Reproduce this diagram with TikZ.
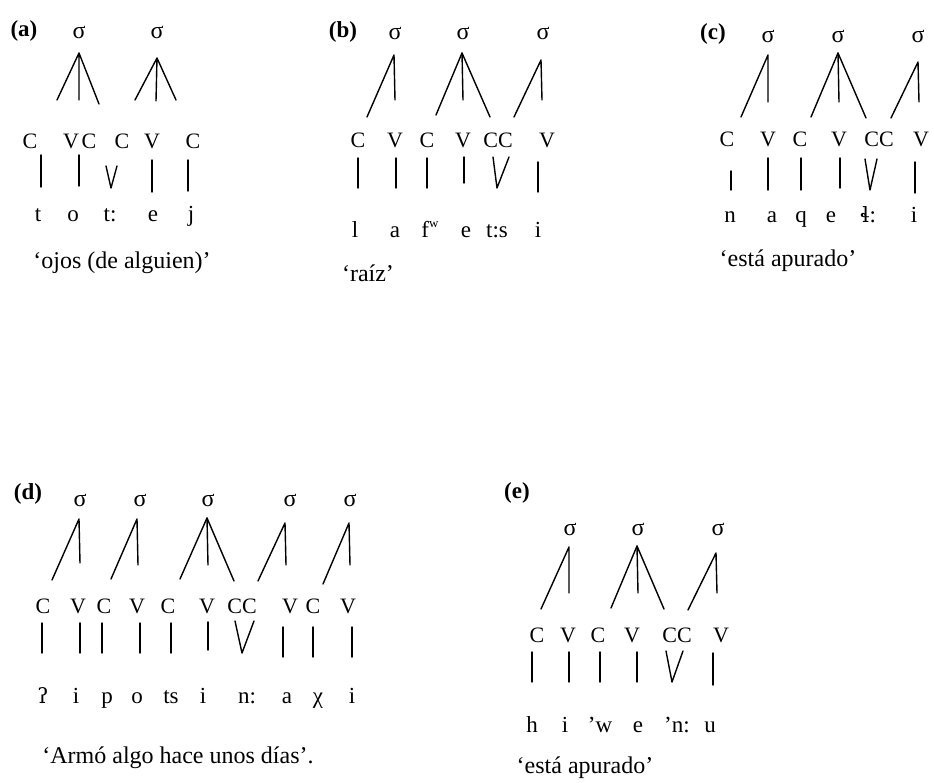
\documentclass[tikz,border=0pt]{standalone}
\usepackage{fontspec}
\setmainfont{Liberation Serif}
\newfontfamily\ipafont{DejaVu Serif}
\begin{document}
\begin{tikzpicture}[x=1pt,y=-1pt,
  lab/.style={anchor=base, inner sep=0pt, font=\fontsize{23}{27}\selectfont\bfseries},
  sig/.style={anchor=base, inner sep=0pt, font=\fontsize{24}{28}\selectfont},
  cv/.style={anchor=base, inner sep=0pt, font=\fontsize{22}{26}\selectfont},
  seg/.style={anchor=base, inner sep=0pt, font=\fontsize{23}{27}\selectfont},
  gloss/.style={anchor=base, inner sep=0pt, font=\fontsize{24}{28}\selectfont},
  br/.style={line width=1.4pt, line cap=round, line join=round}]
\useasboundingbox (0,0) rectangle (934,783);
\fill[white] (0,0) rectangle (934,783);

% ================= (a)
\node[lab] (la) at (24,37) {(a)};
\node[sig] (sa1) at (79,39) {σ};
\node[sig] (sa2) at (157,39) {σ};
\coordinate (aA1) at (79,53);  \coordinate (aA2) at (157,58);
\coordinate (aE1) at (57,100); \coordinate (aE2) at (79,100); \coordinate (aE3) at (99,104);
\coordinate (aE4) at (135,100); \coordinate (aE5) at (156,101); \coordinate (aE6) at (176,100);
\draw[br] (aE1) -- (aA1) -- (aE3) (aA1) -- (aE2);
\draw[br] (aE4) -- (aA2) -- (aE6) (aA2) -- (aE5);
\node[cv] (ac1) at (30,149) {C};
\node[cv] (av1) at (71,149) {V};
\node[cv] (ac2) at (89,149) {C};
\node[cv] (ac3) at (122,149) {C};
\node[cv] (av2) at (152,149) {V};
\node[cv] (ac4) at (193,149) {C};
\draw[br] (41,155) coordinate (aL1t) -- (41,187) coordinate (aL1b);
\draw[br] (79,155) coordinate (aL2t) -- (79,186) coordinate (aL2b);
\draw[br] (106,166) coordinate (aVl) -- (111,188) coordinate (aVb) -- (117,166) coordinate (aVr);
\draw[br] (152,160) coordinate (aL3t) -- (152,192) coordinate (aL3b);
\draw[br] (188,160) coordinate (aL4t) -- (188,191) coordinate (aL4b);
\node[seg] (as1) at (38,222) {t};
\node[seg] (as2) at (73,222) {o};
\node[seg] (as3) at (110,222) {t:};
\node[seg] (as4) at (153,222) {e};
\node[seg] (as5) at (191,222) {j};
\node[gloss] (ag) at (122,269) {‘ojos (de alguien)’};

% ================= (b)
\node[lab] (lb) at (343,38) {(b)};
\node[sig] (sb1) at (395,40) {σ};
\node[sig] (sb2) at (463,40) {σ};
\node[sig] (sb3) at (543,40) {σ};
\coordinate (bA1) at (394,55); \coordinate (bA2) at (462,53); \coordinate (bA3) at (541,60);
\draw[br] (367,117) coordinate (bE1) -- (bA1) -- (395,100) coordinate (bE2);
\draw[br] (436,115) coordinate (bE3) -- (bA2) -- (490,117) coordinate (bE5);
\draw[br] (bA2) -- (463,100) coordinate (bE4);
\draw[br] (514,117) coordinate (bE6) -- (bA3) -- (542,100) coordinate (bE7);
\node[cv] (bc1) at (358,148) {C};
\node[cv] (bv1) at (395,148) {V};
\node[cv] (bc2) at (427,148) {C};
\node[cv] (bv2) at (463,148) {V};
\node[cv] (bcc) at (498,148) {CC};
\node[cv] (bv3) at (547,148) {V};
\draw[br] (358,158) coordinate (bL1t) -- (358,188) coordinate (bL1b);
\draw[br] (396,158) coordinate (bL2t) -- (396,188) coordinate (bL2b);
\draw[br] (427,158) coordinate (bL3t) -- (427,188) coordinate (bL3b);
\draw[br] (464,157) coordinate (bL4t) -- (464,183) coordinate (bL4b);
\draw[br] (493,157) coordinate (bVl) -- (497,188) coordinate (bVb) -- (509,157) coordinate (bVr);
\draw[br] (538,162) coordinate (bL5t) -- (538,192) coordinate (bL5b);
\node[seg] (bs1) at (355,238) {l};
\node[seg] (bs2) at (395,238) {a};
\node[seg] (bs3) at (430,238) {f\raisebox{0.45em}{\fontsize{13}{13}\selectfont w}};
\node[seg] (bs4) at (466,238) {e};
\node[seg] (bs5) at (497,238) {t:s};
\node[seg] (bs6) at (538,238) {i};
\node[gloss] (bg) at (368,282) {‘raíz’};

% ================= (c)
\node[lab] (lc) at (713,40) {(c)};
\node[sig] (sc1) at (768,43) {σ};
\node[sig] (sc2) at (838,43) {σ};
\node[sig] (sc3) at (918,43) {σ};
\coordinate (cA1) at (768,55); \coordinate (cA2) at (838,53); \coordinate (cA3) at (918,62);
\draw[br] (741,117) coordinate (cE1) -- (cA1) -- (768,102) coordinate (cE2);
\draw[br] (811,117) coordinate (cE3) -- (cA2) -- (866,118) coordinate (cE5);
\draw[br] (cA2) -- (839,102) coordinate (cE4);
\draw[br] (891,118) coordinate (cE6) -- (cA3) -- (919,102) coordinate (cE7);
\node[cv] (cc1) at (727,147) {C};
\node[cv] (cv1) at (768,147) {V};
\node[cv] (cc2) at (800,147) {C};
\node[cv] (cv2) at (839,147) {V};
\node[cv] (ccc) at (879,147) {CC};
\node[cv] (cv3) at (921,147) {V};
\draw[br] (731,171) coordinate (cL1t) -- (731,190) coordinate (cL1b);
\draw[br] (768,158) coordinate (cL2t) -- (768,190) coordinate (cL2b);
\draw[br] (801,158) coordinate (cL3t) -- (801,190) coordinate (cL3b);
\draw[br] (840,158) coordinate (cL4t) -- (840,188) coordinate (cL4b);
\draw[br] (865,159) coordinate (cVl) -- (870,190) coordinate (cVb) -- (877,159) coordinate (cVr);
\draw[br] (915,162) coordinate (cL5t) -- (915,193) coordinate (cL5b);
\node[seg] (cs1) at (730,223) {n};
\node[seg] (cs2) at (772,223) {a};
\node[seg] (cs3) at (801,223) {q};
\node[seg] (cs4) at (831,223) {e};
\node[seg] (cs5) at (868,223) {{\ipafont\fontsize{21}{25}\selectfont ɬ}:};
\node[seg] (cs6) at (914,223) {i};
\node[gloss] (cg) at (788,267) {‘está apurado’};

% ================= (d)
\node[lab] (ld) at (28,499) {(d)};
\node[sig] (sd1) at (80,506) {σ};
\node[sig] (sd2) at (140,506) {σ};
\node[sig] (sd3) at (208,506) {σ};
\node[sig] (sd4) at (290,506) {σ};
\node[sig] (sd5) at (350,506) {σ};
\coordinate (dA1) at (79,519); \coordinate (dA2) at (137,519); \coordinate (dA3) at (207,518);
\coordinate (dA4) at (285,523); \coordinate (dA5) at (349,523);
\draw[br] (52,580) coordinate (dE1) -- (dA1) -- (80,563) coordinate (dE2);
\draw[br] (111,579) coordinate (dE3) -- (dA2) -- (138,565) coordinate (dE4);
\draw[br] (180,579) coordinate (dE5) -- (dA3) -- (234,581) coordinate (dE7);
\draw[br] (dA3) -- (208,565) coordinate (dE6);
\draw[br] (258,581) coordinate (dE8) -- (dA4) -- (286,565) coordinate (dE9);
\draw[br] (323,584) coordinate (dE10) -- (dA5) -- (350,565) coordinate (dE11);
\node[cv] (dc1) at (43,613) {C};
\node[cv] (dv1) at (78,613) {V};
\node[cv] (dc2) at (104,613) {C};
\node[cv] (dv2) at (137,613) {V};
\node[cv] (dc3) at (168,613) {C};
\node[cv] (dv3) at (207,613) {V};
\node[cv] (dcc) at (242,613) {CC};
\node[cv] (dv4) at (290,613) {V};
\node[cv] (dc4) at (313,613) {C};
\node[cv] (dv5) at (348,613) {V};
\draw[br] (42,623) coordinate (dL1t) -- (42,653) coordinate (dL1b);
\draw[br] (80,623) coordinate (dL2t) -- (80,653) coordinate (dL2b);
\draw[br] (102,623) coordinate (dL3t) -- (102,653) coordinate (dL3b);
\draw[br] (140,623) coordinate (dL4t) -- (140,653) coordinate (dL4b);
\draw[br] (171,623) coordinate (dL5t) -- (171,653) coordinate (dL5b);
\draw[br] (208,622) coordinate (dL6t) -- (208,650) coordinate (dL6b);
\draw[br] (235,621) coordinate (dVl) -- (242,653) coordinate (dVb) -- (254,621) coordinate (dVr);
\draw[br] (283,627) coordinate (dL7t) -- (283,657) coordinate (dL7b);
\draw[br] (313,627) coordinate (dL8t) -- (313,657) coordinate (dL8b);
\draw[br] (352,627) coordinate (dL9t) -- (352,657) coordinate (dL9b);
\node[seg] (ds1) at (43,703) {{\ipafont\fontsize{21}{25}\selectfont ʔ}};
\node[seg] (ds2) at (76,703) {i};
\node[seg] (ds3) at (107,703) {p};
\node[seg] (ds4) at (137,703) {o};
\node[seg] (ds5) at (171,703) {ts};
\node[seg] (ds6) at (203,703) {i};
\node[seg] (ds7) at (247,703) {n:};
\node[seg] (ds8) at (287,703) {a};
\node[seg] (ds9) at (318,703) {χ};
\node[seg] (ds10) at (352,703) {i};
\node[gloss] (dg) at (178,763) {‘Armó algo hace unos días’.};

% ================= (e)
\node[lab] (le) at (517,498) {(e)};
\node[sig] (se1) at (570,535) {σ};
\node[sig] (se2) at (638,535) {σ};
\node[sig] (se3) at (718,535) {σ};
\coordinate (eA1) at (569,547); \coordinate (eA2) at (637,546); \coordinate (eA3) at (716,553);
\draw[br] (541,609) coordinate (eE1) -- (eA1) -- (569,593) coordinate (eE2);
\draw[br] (611,608) coordinate (eE3) -- (eA2) -- (664,609) coordinate (eE5);
\draw[br] (eA2) -- (638,593) coordinate (eE4);
\draw[br] (688,610) coordinate (eE6) -- (eA3) -- (717,593) coordinate (eE7);
\node[cv] (ec1) at (537,642) {C};
\node[cv] (ev1) at (568,642) {V};
\node[cv] (ec2) at (598,642) {C};
\node[cv] (ev2) at (632,642) {V};
\node[cv] (ecc) at (677,642) {CC};
\node[cv] (ev3) at (721,642) {V};
\draw[br] (532,652) coordinate (eL1t) -- (532,682) coordinate (eL1b);
\draw[br] (569,652) coordinate (eL2t) -- (569,682) coordinate (eL2b);
\draw[br] (600,652) coordinate (eL3t) -- (600,682) coordinate (eL3b);
\draw[br] (637,652) coordinate (eL4t) -- (637,682) coordinate (eL4b);
\draw[br] (666,651) coordinate (eVl) -- (672,682) coordinate (eVb) -- (683,651) coordinate (eVr);
\draw[br] (713,653) coordinate (eL5t) -- (713,685) coordinate (eL5b);
\node[seg] (es1) at (532,732) {h};
\node[seg] (es2) at (565,732) {i};
\node[seg] (es3) at (600,732) {’w};
\node[seg] (es4) at (638,732) {e};
\node[seg] (es5) at (677,732) {’n:};
\node[seg] (es6) at (710,732) {u};
\node[gloss] (eg) at (585,773) {‘está apurado’};
\end{tikzpicture}
\end{document}
